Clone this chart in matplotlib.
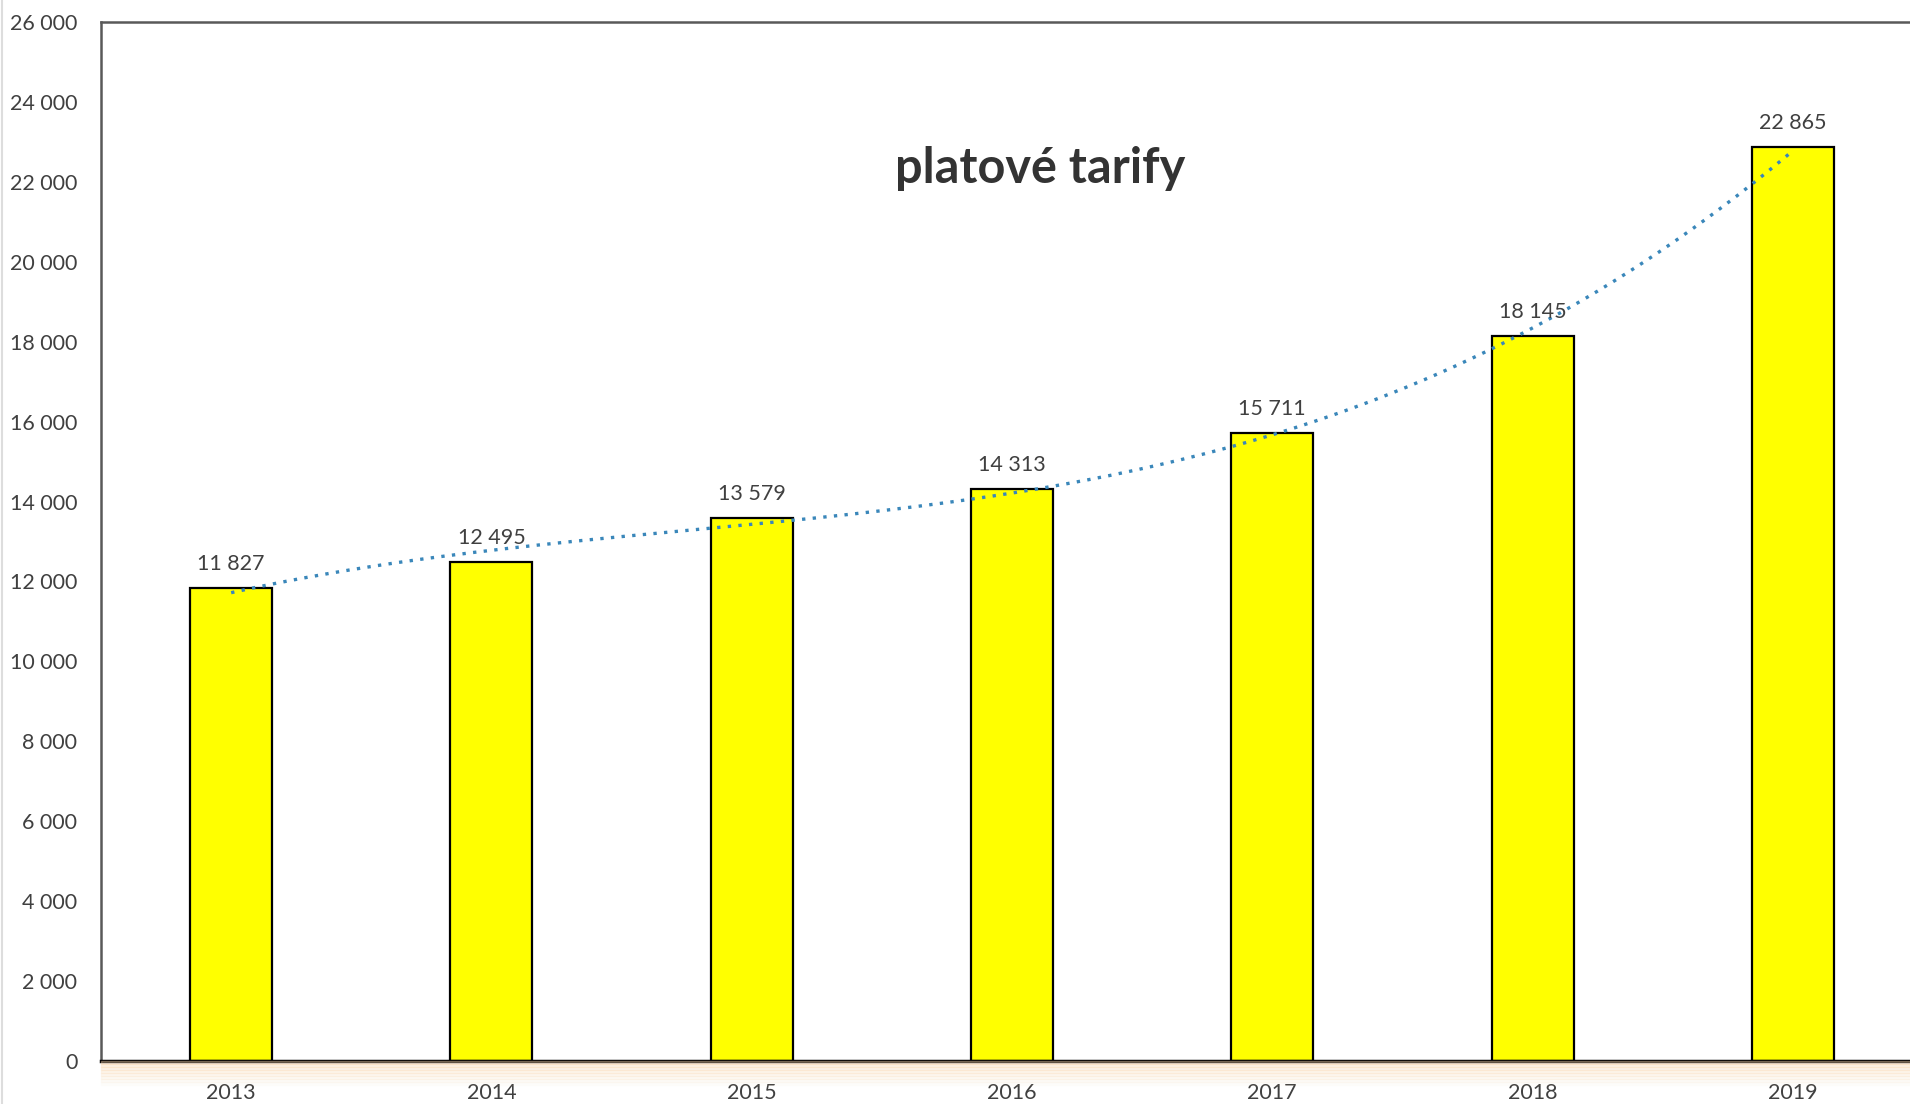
import numpy as np
import matplotlib.pyplot as plt
from matplotlib.ticker import FuncFormatter

roky = ['2013', '2014', '2015', '2016', '2017', '2018', '2019']
tarify = [11827, 12495, 13579, 14313, 15711, 18145, 22865]

plt.rcParams['font.family'] = ['Lato', 'DejaVu Sans']

fig = plt.figure(figsize=(19.1, 11.04), dpi=100)
ax = fig.add_axes([101 / 1910, 43 / 1104, 1 - 101 / 1910, 1 - 65 / 1104])

x = np.arange(len(roky))
ax.bar(x, tarify, width=0.315, color='#FFFF00', edgecolor='black', linewidth=1.6, zorder=2)

# polynomial trend line (3rd order), like the Excel trendline
coef = np.polyfit(x, tarify, 3)
xs = np.linspace(0, len(roky) - 1, 200)
ax.plot(xs, np.polyval(coef, xs), linestyle=(0, (1, 2.2)), color='#3A87BA', linewidth=2.4, zorder=3)

for xi, v in zip(x, tarify):
    ax.text(xi, v + 350, '{:,}'.format(v).replace(',', ' '), ha='center', va='bottom',
            fontsize=15.5, color='#404040', zorder=4)

ax.set_xlim(-0.5, 6.45)
ax.set_ylim(0, 26000)
ax.set_yticks(np.arange(0, 26001, 2000))
ax.yaxis.set_major_formatter(FuncFormatter(lambda v, p: '{:,}'.format(int(v)).replace(',', ' ')))
ax.set_xticks(x)
ax.set_xticklabels(roky)
ax.tick_params(axis='both', length=0, labelsize=15.5, labelcolor='#404040')
ax.tick_params(axis='y', pad=17)
ax.tick_params(axis='x', pad=16)

ax.spines['right'].set_visible(False)
ax.spines['left'].set_color('#595959')
ax.spines['left'].set_linewidth(1.8)
ax.spines['top'].set_color('#595959')
ax.spines['top'].set_linewidth(1.8)
ax.spines['bottom'].set_color('black')
ax.spines['bottom'].set_linewidth(2.5)
ax.spines['bottom'].set_zorder(5)

ax.text(0.519, 0.859, 'platové tarify', transform=ax.transAxes, ha='center', va='center',
        fontsize=35, fontweight='bold', color='#333333')

# faint shadow under the axis
for i in range(8):
    fig.patches.append(plt.Rectangle((101 / 1910, (43 - 3 * (i + 1)) / 1104), 1, 3 / 1104,
                                     transform=fig.transFigure, color='#FBD9B0',
                                     alpha=0.35 * (1 - i / 8), zorder=0))
fig.add_artist(plt.Line2D([2 / 1910, 2 / 1910], [0, 1], color='#DDDDDD', linewidth=1.5))

fig.savefig('out.png', dpi=100)
